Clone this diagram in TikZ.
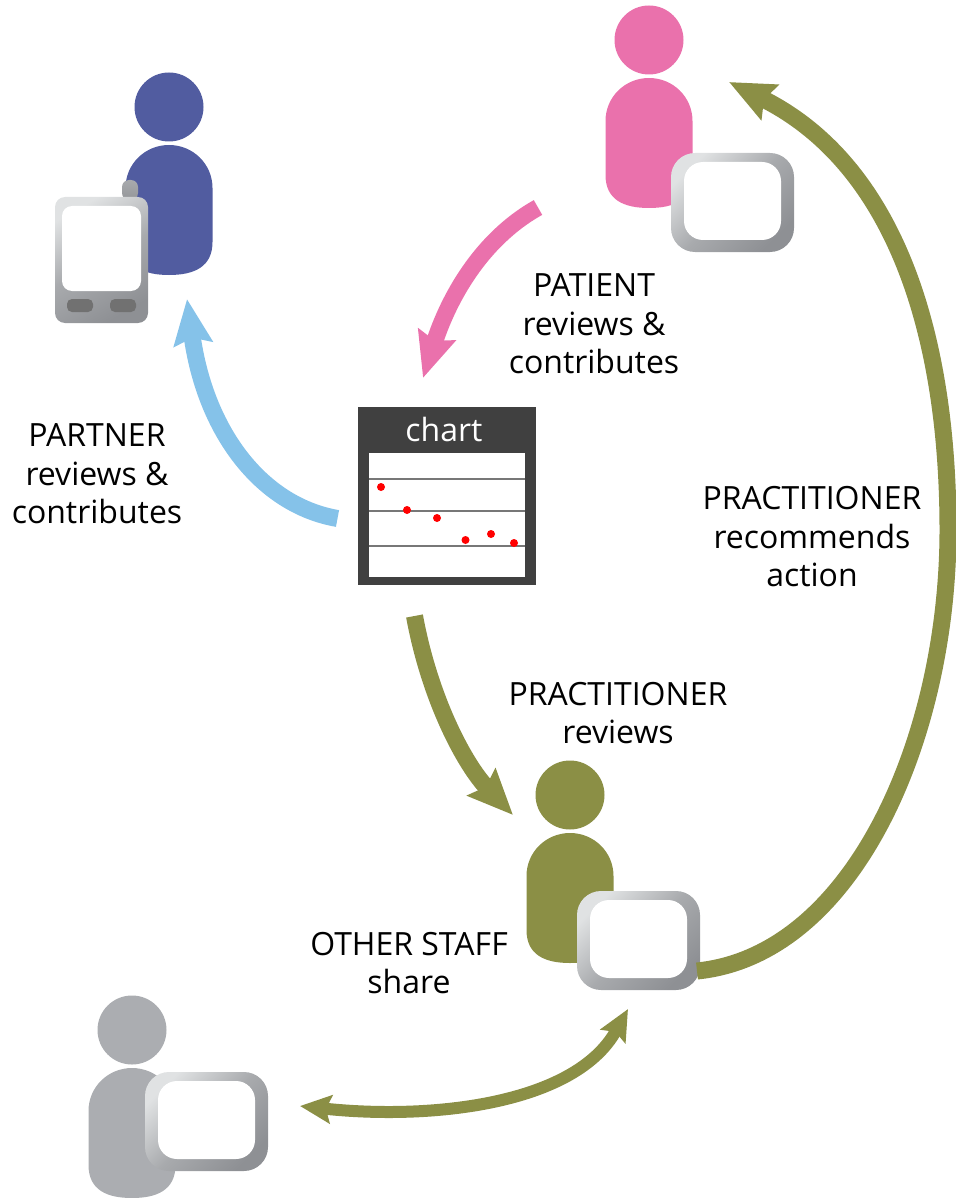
\documentclass[tikz,border=0pt]{standalone}
\usepackage{fontspec}
\setmainfont{Open Sans}
\usetikzlibrary{arrows.meta}
\definecolor{pinkp}{HTML}{EA71AC}
\definecolor{bluep}{HTML}{515CA0}
\definecolor{olivep}{HTML}{8B8F45}
\definecolor{grayp}{HTML}{ABADB1}
\definecolor{skyp}{HTML}{85C2E9}
\definecolor{chartd}{HTML}{404040}
\definecolor{chartl}{HTML}{777777}
\definecolor{frameL}{HTML}{E0E2E3}
\definecolor{frameM}{HTML}{A8AAAD}
\definecolor{frameD}{HTML}{8E9094}
\tikzset{
  x=1pt,y=-1pt,
  lbl/.style={align=center,font=\fontsize{32}{38.5}\selectfont,inner sep=0pt},
  flow/.style={line width=#1,line cap=butt},
  bighead/.style={Stealth[length=45pt,width=38pt,inset=6pt]},
  person/.pic={
    \fill[pic actions] (0,0) circle[radius=34.5];
    \fill[pic actions] (-43.5,81) .. controls (-43.5,57) and (-24,38) .. (0,38) .. controls (24,38) and (43.5,57) .. (43.5,81) -- (43.5,135)
      .. controls (43.5,160) and (25,168) .. (0,168) .. controls (-25,168) and (-43.5,160) .. (-43.5,135) -- cycle;
  },
  tablet/.pic={
    \path[rounded corners=24pt,shade,top color=frameL,bottom color=frameD,middle color=frameM,shading angle=45] (0,0) rectangle (123,99);
    \fill[white,rounded corners=19pt] (13,9) rectangle (110,87);
  },
  dotp/.style={fill=red,circle,inner sep=0pt,minimum size=8pt},
}
\begin{document}
\begin{tikzpicture}
\useasboundingbox (0,0) rectangle (955,1198);
\pic[bluep] (partner) at (169,107) {person};
\pic[pinkp] (patient) at (649,40) {person};
\pic[olivep] (pract) at (570,795) {person};
\pic[grayp] (staff) at (132,1030) {person};
\pic (t1) at (671,153) {tablet};
\pic (t2) at (577,891) {tablet};
\pic (t3) at (145,1072) {tablet};
% phone
\path[rounded corners=7pt,shade,top color=frameM,bottom color=frameD!95!white] (122,200) -- (122,180) -- (138,180) -- (138,200) -- cycle;
\path[rounded corners=10pt,shade,top color=frameL,bottom color=frameD,middle color=frameM,shading angle=30] (55,197) rectangle (148,323);
\fill[white,rounded corners=10pt] (62,206) rectangle (141,291);
\fill[chartl!95!black,rounded corners=5pt] (67,299) rectangle (93,312);
\fill[chartl!95!black,rounded corners=5pt] (110,299) rectangle (136,312);
% chart
\node[fill=chartd,minimum size=178pt,inner sep=0pt] (chart) at (447,496) {};
\fill[white] (369,453) rectangle (525,577);
\foreach \yy in {479,511,545.5} \draw[chartl,line width=2pt] (369,\yy) -- (525,\yy);
\node[dotp] (d1) at (381,487) {};
\node[dotp] (d2) at (407,510) {};
\node[dotp] (d3) at (437,518) {};
\node[dotp] (d4) at (465.5,540) {};
\node[dotp] (d5) at (491,534) {};
\node[dotp] (d6) at (514,543) {};
\node[text=white,font=\fontsize{32}{38}\selectfont,inner sep=0pt,anchor=base] (ct) at (444,441) {chart};
% labels
\node[lbl] (l1) at (594,324) {PATIENT\\reviews \&\\contributes};
\node[lbl] (l2) at (97,474) {PARTNER\\reviews \&\\contributes};
\node[lbl] (l3) at (812,537) {PRACTITIONER\\recommends\\action};
\node[lbl] (l4) at (618,713) {PRACTITIONER\\reviews};
\node[lbl] (l5) at (409,963) {OTHER STAFF\\share};
% arrows
\coordinate (a1s) at (538,207.5);\coordinate (a1e) at (423,378);
\draw[pinkp,flow=17pt,-{Stealth[length=45pt,width=38pt,inset=6pt]}] (a1s) .. controls (480,240) and (448,300) .. (a1e);
\coordinate (a2s) at (337.5,518.5);\coordinate (a2e) at (187,299);
\draw[skyp,flow=17pt,-{Stealth[length=45pt,width=38pt,inset=6pt]}] (a2s) .. controls (260,505) and (205,430) .. (a2e);
\coordinate (a3s) at (414.5,616);\coordinate (a3e) at (513,815);
\draw[olivep,flow=17pt,-{Stealth[length=45pt,width=38pt,inset=6pt]}] (a3s) .. controls (430,700) and (465,765) .. (a3e);
\coordinate (a4s) at (697,971);\coordinate (a4e) at (729,82);
\draw[olivep,flow=17pt,-{Stealth[length=45pt,width=38pt,inset=6pt]}] (a4s) .. controls (855,955) and (948,735) .. (948,530) .. controls (948,340) and (898,166) .. (a4e);
\coordinate (a5s) at (300,1106);\coordinate (a5e) at (628,1009);
\draw[olivep,flow=12pt,{Stealth[length=31pt,width=28pt,inset=5pt]}-{Stealth[length=31pt,width=28pt,inset=5pt]}] (a5s) .. controls (430,1120) and (575,1105) .. (a5e);
\end{tikzpicture}
\end{document}
